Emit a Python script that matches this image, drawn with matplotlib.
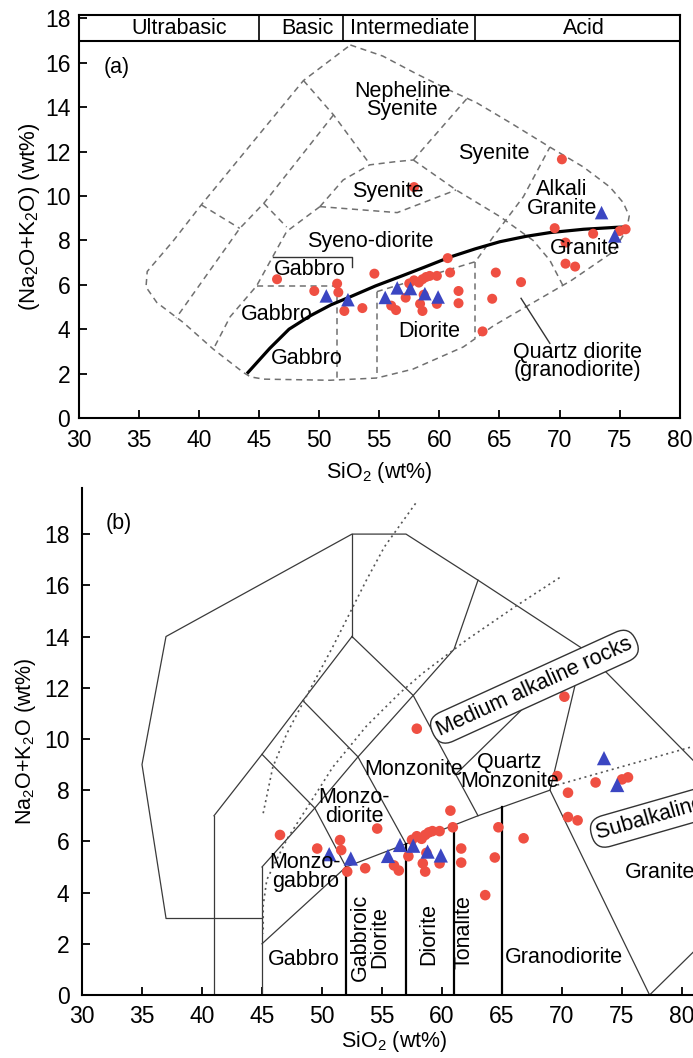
import matplotlib
matplotlib.use("Agg")
import matplotlib.pyplot as plt

plt.rcParams['font.family'] = ['Liberation Sans', 'DejaVu Sans']
plt.rcParams['mathtext.fontset'] = 'custom'
plt.rcParams['mathtext.rm'] = 'Liberation Sans'
plt.rcParams['mathtext.it'] = 'Liberation Sans:italic'

# ---------------- data (samples) ----------------
red_sio2 = [46.5, 49.6, 51.5, 51.6, 52.1, 53.6, 54.6, 56.0, 56.4, 57.2, 57.5, 57.9,
            58.3, 58.6, 58.9, 59.2, 58.7, 58.4, 58.6, 59.8, 59.8, 60.7, 60.9, 61.6,
            61.6, 63.6, 64.4, 64.7, 66.8, 69.6, 70.5, 70.5, 71.3, 72.8, 75.0, 75.5,
            57.9, 70.2]
red_alk = [6.25, 5.72, 6.05, 5.66, 4.82, 4.95, 6.5, 5.06, 4.86, 5.42, 6.06, 6.2,
           6.1, 6.25, 6.35, 6.4, 5.55, 5.14, 4.82, 5.14, 6.4, 7.2, 6.55, 5.72,
           5.17, 3.9, 5.37, 6.55, 6.12, 8.55, 7.9, 6.95, 6.82, 8.3, 8.42, 8.5,
           10.4, 11.65]
blue_sio2 = [50.6, 52.4, 55.5, 56.5, 57.6, 58.8, 59.9, 73.5, 74.6]
blue_alk = [5.5, 5.33, 5.43, 5.86, 5.83, 5.6, 5.45, 9.25, 8.2]

x_ticks = [30, 35, 40, 45, 50, 55, 60, 65, 70, 75, 80]
y_ticks = [0, 2, 4, 6, 8, 10, 12, 14, 16, 18]

# ---------------- panel (a) field boundaries (Cox et al./Wilson) ----------------
a_outer = [(52.6, 16.8), (55.3, 16.3), (58.1, 15.5), (60.9, 14.75), (63.1, 14.2),
           (65.9, 13.3), (69.2, 12.2), (72.0, 11.3), (74.2, 10.4), (75.3, 9.7),
           (75.8, 9.1), (75.6, 8.5), (74.5, 7.5), (71.0, 6.2), (67.5, 5.1),
           (64.5, 4.15), (62.0, 3.2), (57.8, 2.2), (54.8, 1.8), (50.9, 1.7),
           (45.4, 1.75), (44.3, 1.85), (43.7, 2.05), (41.2, 3.1), (38.7, 4.3),
           (36.5, 5.2), (35.6, 5.9), (35.7, 6.6), (37.9, 8.0), (40.2, 9.6),
           (48.7, 15.2), (52.6, 16.8)]
a_lines = [
    [(40.2, 9.6), (43.4, 8.54)],
    [(51.2, 13.65), (45.4, 9.67), (43.4, 8.54), (38.1, 4.5)],
    [(45.4, 9.67), (47.3, 8.6)],
    [(50.07, 9.52), (47.3, 8.4), (44.8, 5.95), (42.6, 4.56), (41.2, 3.1)],
    [(50.07, 9.52), (52.0, 10.72), (54.2, 11.4), (56.45, 11.55), (57.84, 11.62)],
    [(48.7, 15.2), (51.2, 13.65), (54.2, 11.45)],
    [(57.84, 11.62), (62.4, 14.45)],
    [(57.84, 11.62), (61.4, 10.27), (65.05, 9.07), (67.8, 8.0), (69.2, 7.1), (70.3, 5.95)],
    [(50.07, 9.52), (56.5, 9.25), (61.4, 10.27)],
    [(54.8, 5.69), (63.0, 7.04), (64.5, 8.17), (67.0, 9.97), (69.2, 12.2)],
    [(44.8, 5.95), (51.5, 5.95)],
    [(51.5, 5.95), (51.5, 1.7)],
    [(54.8, 5.69), (54.8, 1.8)],
    [(63.0, 7.04), (63.0, 3.6)],
]
# alkaline / subalkaline curve (Irvine & Baragar)
ib_curve = [(44.0, 2.0), (45.9, 3.14), (47.5, 4.0), (49.25, 4.6), (51.0, 5.1),
            (52.6, 5.46), (54.7, 5.95), (56.7, 6.36), (58.8, 6.8), (60.9, 7.25),
            (63.0, 7.62), (65.05, 7.94), (67.2, 8.18), (69.2, 8.35), (72.0, 8.5),
            (74.8, 8.59), (75.4, 8.6)]

# ---------------- panel (b) field boundaries (Middlemost) ----------------
b_thin = [
    [(37, 3), (35, 9), (37, 14), (52.5, 18), (57, 18), (63, 16.2), (71.8, 13.5), (85.9, 6.8)],
    [(69, 8), (77.3, 0), (87.5, 4.7)],
    [(37, 3), (45, 3)],
    [(41, 0), (41, 7)],
    [(45, 0), (45, 5)],
    [(41, 7), (45, 9.4), (48.4, 11.5), (52.5, 14)],
    [(52.5, 14), (52.5, 18)],
    [(45, 5), (49.4, 7.3), (53, 9.3), (57.6, 11.7), (61, 13.5), (63, 16.2)],
    [(45, 9.4), (49.4, 7.3), (52, 5)],
    [(48.4, 11.5), (53, 9.3), (57, 5.9)],
    [(52.5, 14), (57.6, 11.7), (63, 7)],
    [(45, 2), (52, 5), (57, 5.9), (63, 7), (69, 8)],
    [(69, 8), (71.8, 13.5)],
    [(61.1, 8.6), (71.8, 13.5)],
]
b_thick = [[(52, 0), (52, 5)], [(57, 0), (57, 5.9)], [(61, 0), (61, 6.63)], [(65, 0), (65, 7.33)]]
b_dotted = [
    [(57.8, 19.2), (55.2, 17.5), (53.7, 16.2), (50.9, 13.6), (48.4, 11.4), (47.06, 10.2),
     (45.9, 8.9), (45.1, 7.1)],
    [(69.8, 16.3), (66.2, 15.2), (62.06, 13.87), (58.4, 12.57), (56.5, 11.8), (53.7, 10.5),
     (50.9, 8.9), (48.6, 7.2), (47.1, 6.1), (46.2, 5.27), (45.4, 4.5), (45.1, 3.5), (45.1, 2.4)],
    [(69.6, 8.2), (82.0, 9.85)],
]

RED = '#ef4f42'
BLUE = '#3b46c2'
FS = 15.5
TFS = 16.5

fig = plt.figure(figsize=(6.93, 10.58), dpi=100)

# ================= panel (a) =================
axa = fig.add_axes([78.7 / 693, 1 - 418 / 1058, 601 / 693, 403 / 1058])
axa.set_xlim(30, 80)
axa.set_ylim(0, 18.15)
for s in axa.spines.values():
    s.set_linewidth(1.5)

def xy(seq):
    return [p[0] for p in seq], [p[1] for p in seq]

dash_kw = dict(color='#707070', lw=1.1, dashes=(4, 3))
axa.plot(*xy(a_outer), **dash_kw)
for ln in a_lines:
    axa.plot(*xy(ln), **dash_kw)
axa.plot(*xy(ib_curve), color='black', lw=2.3, solid_capstyle='butt')

# bracket and leader
axa.plot([46.2, 52.7, 52.7], [7.27, 7.27, 6.8], color='#333333', lw=1.0)
axa.plot([66.8, 69.2], [5.39, 3.36], color='#333333', lw=1.0)

# header band
axa.axhline(17.0, color='black', lw=1.5)
for xv in [45, 52, 63]:
    axa.plot([xv, xv], [17.0, 18.15], color='black', lw=1.2)
for txt, xv in [('Ultrabasic', 38.4), ('Basic', 49.0), ('Intermediate', 57.5), ('Acid', 72.0)]:
    axa.text(xv, 17.55, txt, ha='center', va='center', fontsize=FS)

axa.scatter(red_sio2, red_alk, s=52, c=RED, edgecolors='none', zorder=5)
axa.scatter(blue_sio2, blue_alk, s=95, c=BLUE, marker='^', edgecolors='none', zorder=6)

a_labels = [
    ('(a)', 33.2, 15.8),
    ('Nepheline\nSyenite', 56.9, 14.3),
    ('Syenite', 64.5, 11.9),
    ('Syenite', 55.7, 10.2),
    ('Syeno-diorite', 54.3, 7.94),
    ('Gabbro', 49.2, 6.67),
    ('Gabbro', 46.5, 4.64),
    ('Gabbro', 49.0, 2.7),
    ('Diorite', 59.2, 3.89),
    ('Alkali\nGranite', 70.2, 9.85),
    ('Granite', 72.1, 7.64),
    ('Quartz diorite\n(granodiorite)', 71.5, 2.55),
]
for t, xv, yv in a_labels:
    axa.text(xv, yv, t, ha='center', va='center', fontsize=FS, linespacing=0.85, zorder=7)

axa.set_xticks(x_ticks)
axa.set_yticks(y_ticks)
axa.tick_params(direction='in', length=6, width=1.3, labelsize=TFS, top=False, right=False)
axa.tick_params(axis='x', pad=8)
axa.tick_params(axis='y', pad=6)
axa.set_xlabel('SiO$_2$ (wt%)', fontsize=FS, labelpad=6)
axa.set_ylabel('(Na$_2$O+K$_2$O) (wt%)', fontsize=16, labelpad=2)

# ================= panel (b) =================
axb = fig.add_axes([82 / 693, 1 - 995 / 1058, 624 / 693, 507 / 1058])
axb.set_xlim(30, 82)
axb.set_ylim(0, 19.8)
axb.spines['top'].set_visible(False)
axb.spines['right'].set_visible(False)
axb.spines['left'].set_linewidth(1.5)
axb.spines['bottom'].set_linewidth(1.5)

for ln in b_thin:
    axb.plot(*xy(ln), color='#3a3a3a', lw=0.9)
for ln in b_thick:
    axb.plot(*xy(ln), color='black', lw=1.6)
for ln in b_dotted:
    axb.plot(*xy(ln), color='#555555', lw=1.2, dashes=(1.2, 2.2))

axb.scatter(red_sio2, red_alk, s=58, c=RED, edgecolors='none', zorder=5)
axb.scatter(blue_sio2, blue_alk, s=105, c=BLUE, marker='^', edgecolors='none', zorder=6)

b_labels = [
    ('(b)', 33.1, 18.4, 0),
    ('Monzonite', 57.6, 8.8, 0),
    ('Quartz\nMonzonite', 65.6, 8.7, 0),
    ('Monzo-\ndiorite', 52.7, 7.35, 0),
    ('Monzo-\ngabbro', 48.6, 4.8, 0),
    ('Gabbro', 48.5, 1.4, 0),
    ('Gabbroic\nDiorite', 54.0, 2.25, 90),
    ('Diorite', 58.9, 2.38, 90),
    ('Tonalite', 61.8, 2.45, 90),
    ('Granodiorite', 70.2, 1.47, 0),
]
for t, xv, yv, rot in b_labels:
    axb.text(xv, yv, t, ha='center', va='center', fontsize=FS, rotation=rot,
             linespacing=0.85, zorder=7)
axb.text(75.2, 4.8, 'Granite', ha='left', va='center', fontsize=FS, zorder=7)

box_kw = dict(boxstyle='round,pad=0.25,rounding_size=0.7', fc='white', ec='#333333', lw=1.0)
axb.text(67.7, 12.04, 'Medium alkaline rocks', ha='center', va='center', fontsize=FS,
         rotation=24.5, rotation_mode='anchor', bbox=box_kw, zorder=8)
axb.text(72.9, 6.3, 'Subalkaline rocks', ha='left', va='center', fontsize=FS,
         rotation=16, rotation_mode='anchor', bbox=box_kw, zorder=8)

axb.set_xticks(x_ticks)
axb.set_yticks(y_ticks)
axb.tick_params(direction='in', length=6, width=1.3, labelsize=TFS)
axb.tick_params(axis='x', pad=7)
axb.tick_params(axis='y', pad=9)
axb.set_xlabel('SiO$_2$ (wt%)', fontsize=FS, labelpad=1)
axb.set_ylabel('Na$_2$O+K$_2$O (wt%)', fontsize=FS, labelpad=4)

fig.savefig('out.png', dpi=100)
